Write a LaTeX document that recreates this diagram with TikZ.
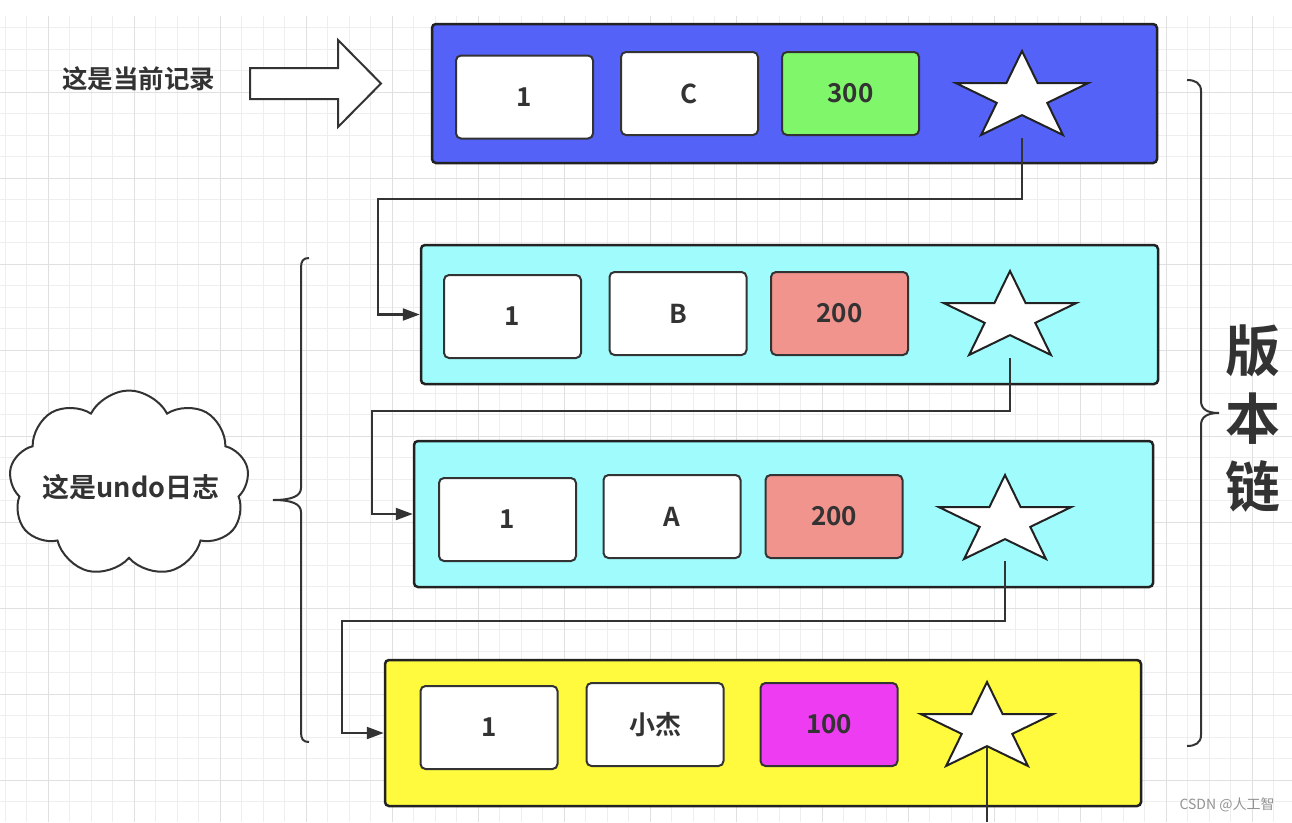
\documentclass[tikz,border=0pt]{standalone}
\usepackage{fontspec}
\setmainfont{Noto Sans CJK SC}[BoldFont={Noto Sans CJK SC Bold}]
\usetikzlibrary{shapes.geometric,shapes.symbols,arrows.meta}
\definecolor{ink}{HTML}{333333}
\definecolor{edge}{HTML}{222222}
\definecolor{rowblue}{RGB}{84,98,247}
\definecolor{rowcyan}{RGB}{160,251,253}
\definecolor{rowyellow}{RGB}{255,250,62}
\definecolor{cellgreen}{RGB}{128,247,106}
\definecolor{cellpink}{RGB}{241,148,142}
\definecolor{cellmagenta}{RGB}{238,60,242}
\definecolor{gridminor}{HTML}{EEEEEE}
\definecolor{gridmajor}{HTML}{E0E0E0}
\begin{document}
\begin{tikzpicture}[x=1pt,y=-1pt,
  rowbox/.style={draw=edge, line width=2.5pt, rounded corners=4pt, inner sep=0pt},
  cell/.style={draw=ink, line width=2pt, rounded corners=5pt, fill=white,
    minimum width=137pt, minimum height=83pt, inner sep=0pt, text=ink,
    font=\bfseries\fontsize{26}{30}\selectfont},
  starnode/.style={star, star points=5, star point ratio=2.618, minimum size=92.8pt,
    inner sep=0pt, draw=edge, fill=white, line width=2pt, xscale=1.5, transform shape},
  link/.style={draw=ink, line width=2.2pt, -{Triangle[length=17pt,width=12pt]}},
  plainline/.style={draw=ink, line width=2.2pt},
  bracestyle/.style={draw=ink, line width=2pt},
  label/.style={text=ink, font=\bfseries\fontsize{25.5}{30}\selectfont, inner sep=0pt}]
\useasboundingbox (0,0) rectangle (1292,822);
\fill[white] (0,0) rectangle (1292,822);
% grid
\begin{scope}
\clip (0,16) rectangle (1292,822);
\foreach \i in {0,...,60} \draw[gridminor, line width=1pt] ({5+21.5*\i},16) -- (5+21.5*\i,822);
\foreach \i in {0,...,38} \draw[gridminor, line width=1pt] (0,{27.5+21.5*\i}) -- (1292,27.5+21.5*\i);
\foreach \i in {0,...,15} \draw[gridmajor, line width=1pt] ({48+86*\i},16) -- (48+86*\i,822);
\foreach \i in {0,...,9} \draw[gridmajor, line width=1pt] (0,{92+86*\i}) -- (1292,92+86*\i);
\end{scope}

% rows
\node[rowbox, fill=rowblue, minimum width=725pt, minimum height=139pt] (r1) at (794.5,93.5) {};
\node[rowbox, fill=rowcyan, minimum width=737pt, minimum height=139pt] (r2) at (789.5,314.5) {};
\node[rowbox, fill=rowcyan, minimum width=739pt, minimum height=146pt] (r3) at (783.5,514) {};
\node[rowbox, fill=rowyellow, minimum width=756pt, minimum height=146pt] (r4) at (763,733) {};

% cells
\node[cell] (a1) at (524.5,97) {1};
\node[cell] (a2) at (689.5,93.5) {C};
\node[cell, fill=cellgreen] (a3) at (850.5,93.5) {300};
\node[starnode] (s1) at (1022,97.4) {};

\node[cell] (b1) at (512.5,316.5) {1};
\node[cell] (b2) at (678,313.5) {B};
\node[cell, fill=cellpink] (b3) at (839.5,313.5) {200};
\node[starnode] (s2) at (1010,317.4) {};

\node[cell] (c1) at (507.5,519.5) {1};
\node[cell] (c2) at (672,516.5) {A};
\node[cell, fill=cellpink] (c3) at (834,516.5) {200};
\node[starnode] (s3) at (1005,521.4) {};

\node[cell] (d1) at (489,727.5) {1};
\node[cell] (d2) at (655,724.5) {小杰};
\node[cell, fill=cellmagenta] (d3) at (829,724.5) {100};
\node[starnode] (s4) at (987,728.4) {};

% connectors
\coordinate (k1) at (378,199);
\coordinate (k2) at (372,411);
\coordinate (k3) at (342,621);
\coordinate (kend) at (987,822);
\draw[link, shorten <=22pt] (s1.south) |- (k1) |- (r2.west);
\draw[link, shorten <=22pt] (s2.south) |- (k2) |- (r3.west);
\draw[link, shorten <=21pt] (s3.south) |- (k3) |- (r4.west);
\draw[plainline] (s4.south) -- (kend);

% current record label and block arrow
\node[label] (cur) at (138.5,79) {这是当前记录};
\draw[draw=ink, line width=2pt, fill=white, line join=miter]
  (250,68) -- (338,68) -- (338,40) -- (381,83.5) -- (338,127) -- (338,99) -- (250,99) -- cycle;

% cloud
\node[cloud, cloud puffs=9, cloud puff arc=125, aspect=1.27, minimum width=240pt,
  minimum height=186pt, draw=ink, fill=white, line width=2pt, inner sep=0pt] (cl) at (129,483.5) {};
\node[label, font=\bfseries\fontsize{27}{30}\selectfont] (cltxt) at (131,487) {这是undo日志};

% left brace
\draw[bracestyle] (309,258) .. controls (303,258) and (301,261) .. (301,268) -- (301,488)
  .. controls (301,496) and (292,500) .. (273,500)
  .. controls (292,500) and (301,504) .. (301,512) -- (301,732)
  .. controls (301,739) and (303,742) .. (309,742);

% right brace
\draw[bracestyle] (1187,80) .. controls (1195,80) and (1201,83) .. (1201,91) -- (1201,401)
  .. controls (1201,409) and (1207,413) .. (1219,413)
  .. controls (1207,413) and (1201,417) .. (1201,425) -- (1201,735)
  .. controls (1201,743) and (1195,746) .. (1187,746);

\node[text=ink, font=\bfseries\fontsize{55}{68}\selectfont, align=center, inner sep=0pt] (chain) at (1253,419) {版\\本\\链};

% watermark
\node[text=gray!85, font=\fontsize{14}{16}\selectfont, inner sep=0pt] (wm) at (1227,805) {CSDN @人工智};
\end{tikzpicture}
\end{document}
